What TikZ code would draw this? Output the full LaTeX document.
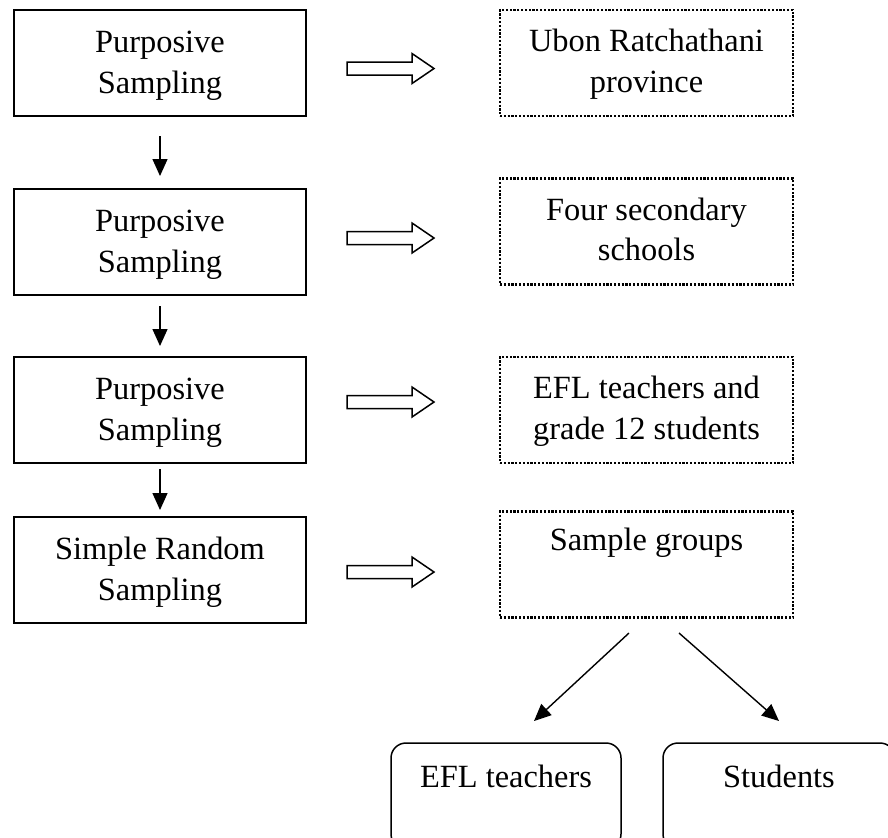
\documentclass[tikz,border=0pt]{standalone}
\usepackage{fontspec}
\setmainfont{Liberation Serif}
\usetikzlibrary{arrows.meta}
\tikzset{
	sampbox/.style={draw, line width=1pt, minimum width=146pt, minimum height=53pt, align=center, inner sep=0pt, text height=33.5pt, text depth=3.5pt},
	dotbox/.style={draw, line width=1.25pt, dash pattern=on 1.1pt off 0.8pt, minimum width=146.5pt, minimum height=53pt, align=center, inner sep=0pt, text height=32.5pt, text depth=3.5pt},
	groupbox/.style={draw, line width=0.75pt, rounded corners=7.5pt, minimum width=115pt, minimum height=53pt, align=center, inner sep=0pt, text height=11pt, text depth=20pt},
	downarr/.style={line width=0.7pt, -{Triangle[length=8.5pt,width=7.5pt]}}
}

\begin{document}
\begin{tikzpicture}[x=0.5pt, y=-0.5pt, font=\fontsize{16.2}{20.2}\selectfont]
				\useasboundingbox (0, 0) rectangle (888, 837);
				
				\node[sampbox] (ps1) at (160, 63) {Purposive\\Sampling};
				\node[sampbox] (ps2) at (160, 242) {Purposive\\Sampling};
				\node[sampbox] (ps3) at (160, 410) {Purposive\\Sampling};
				\node[sampbox] (srs) at (160, 570) {Simple Random\\Sampling};
				
				\node[dotbox] (ubon) at (646.5, 63) {Ubon Ratchathani\\province};
				\node[dotbox] (four) at (646.5, 231.5) {Four secondary\\schools};
				\node[dotbox] (eflg) at (646.5, 410) {EFL teachers and\\grade 12 students};
				\node[dotbox, text height=11pt, text depth=25.5pt] (sg) at (646.5, 564.5) {Sample groups};
				
				\node[groupbox] (teach) at (506, 796) {EFL teachers};
				\node[groupbox, minimum width=116pt] (stud) at (779, 796) {Students};
				
				\draw[downarr, shorten <=9.5pt, shorten >=6pt] (ps1) -- (ps2);
				\draw[downarr, shorten <=5pt, shorten >=5pt] (ps2) -- (ps3);
				\draw[downarr, shorten <=2.5pt, shorten >=3pt] (ps3) -- (srs);
				
				\foreach \c in {68.5, 238, 402, 572}
					\draw[line width=0.75pt] (347, \c-6.5) -- (412, \c-6.5) -- (412, \c-15) -- (434, \c) -- (412, \c+15) -- (412, \c+6.5) -- (347, \c+6.5) -- cycle;
				
				\coordinate (sgl) at (629, 633);
				\coordinate (sgr) at (679, 633);
				\coordinate (teachtop) at (534, 721);
				\coordinate (studtop) at (779, 721);
				\draw[downarr] (sgl) -- (teachtop);
				\draw[downarr] (sgr) -- (studtop);
			\end{tikzpicture}
\end{document}
